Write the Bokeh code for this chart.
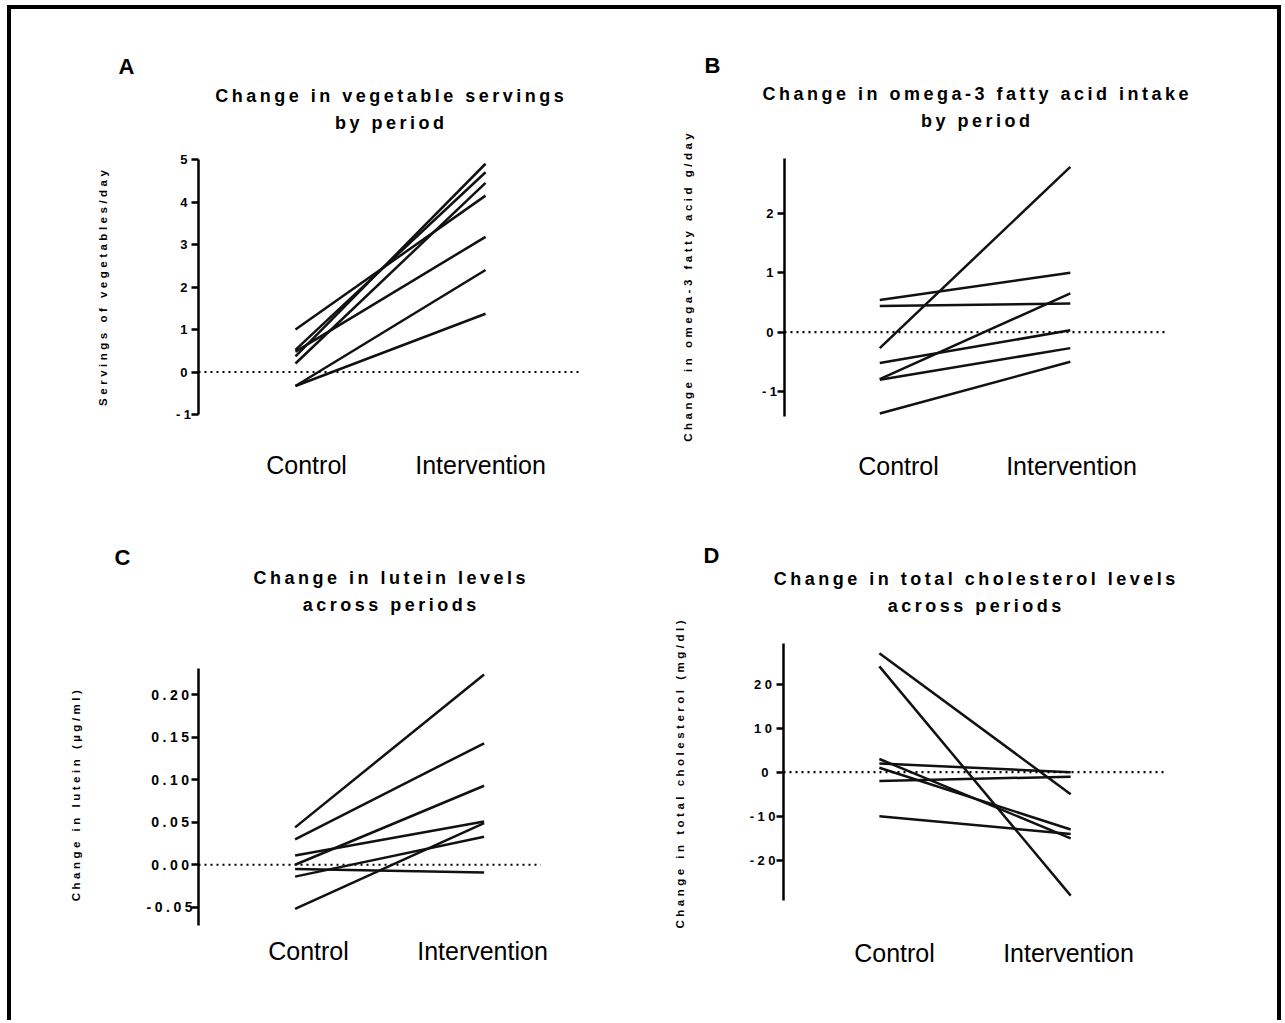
import math
from bokeh.plotting import figure
from bokeh.layouts import column, row
from bokeh.models import Range1d, FixedTicker, NumeralTickFormatter, Span
from bokeh.core.properties import value
from bokeh.embed import file_html
from bokeh.resources import INLINE

# ---------------- data ----------------
categories = ["Control", "Intervention"]

veg_control = [1.00, 0.52, 0.48, 0.37, 0.20, -0.33, -0.33]
veg_intervention = [4.15, 4.70, 3.18, 4.90, 4.45, 2.40, 1.37]
veg_ticks = [-1, 0, 1, 2, 3, 4, 5]

omega_control = [-0.27, 0.54, 0.44, -0.79, -0.52, -0.80, -1.37]
omega_intervention = [2.78, 1.00, 0.48, 0.65, 0.03, -0.27, -0.50]
omega_ticks = [-1, 0, 1, 2]

lutein_control = [0.044, 0.030, 0.000, 0.011, -0.014, -0.052, -0.005]
lutein_intervention = [0.224, 0.143, 0.093, 0.051, 0.033, 0.049, -0.009]
lutein_ticks = [-0.05, 0.0, 0.05, 0.10, 0.15, 0.20]

chol_control = [27, 24, 2, -2, 3, 1, -10]
chol_intervention = [-5, -28, 0, -1, -15, -13, -14]
chol_ticks = [-20, -10, 0, 10, 20]

panel_letters = ["A", "B", "C", "D"]
panel_titles = [
    ["Change in vegetable servings", "by period"],
    ["Change in omega-3 fatty acid intake", "by period"],
    ["Change in lutein levels", "across periods"],
    ["Change in total cholesterol levels", "across periods"],
]
y_labels = [
    "Servings of vegetables/day",
    "Change in omega-3 fatty acid g/day",
    "Change in lutein (µg/ml)",
    "Change in total cholesterol (mg/dl)",
]

# ---------------- style / layout ----------------
FONT = "Liberation Sans"
SP = 3.5                       # letter spacing in px
SPACING = f"{SP}px"
TITLE_SIZE = 18
YLAB_SIZE = 11.5
LETTER_SIZE = 22

# Arial / Liberation Sans Bold advance widths (per 1000 em)
_AB = {' ': 278, '(': 333, ')': 333, '-': 333, '.': 278, '/': 278, 'µ': 611,
       'A': 722, 'B': 722, 'C': 722, 'D': 722, 'S': 667,
       'a': 556, 'b': 611, 'c': 556, 'd': 611, 'e': 556, 'f': 333, 'g': 611, 'h': 611,
       'i': 278, 'j': 278, 'k': 556, 'l': 278, 'm': 889, 'n': 611, 'o': 611, 'p': 611,
       'q': 611, 'r': 389, 's': 556, 't': 333, 'u': 611, 'v': 556, 'w': 778, 'x': 556,
       'y': 556, 'z': 500}


def spaced_width(text, size):
    w = sum(_AB.get(c, 556) for c in text) / 1000.0 * size
    return w + (len(text) - 1) * SP


MB_BOT = 9

# geometry per panel (pixels); lab_xr = range of the category-label strip
panels = [
    dict(control=veg_control, intervention=veg_intervention, ticks=veg_ticks, fmt="0",
         xr=(0.49, 2.51), lab_xr=(0.379, 2.586), yr=(-1, 5), tick_size="13px",
         tick_standoff=4, qw=629, lw=125, mb_left=62, mb_right=58, mb_top=14, frame_h=255,
         top_h=136, bot_h=92, cat_standoff=26,
         title_xy=(378, 50, 23), letter_xy=(115, 79), ylab_xy=(91, 227.5), zero_end=None),
    dict(control=omega_control, intervention=omega_intervention, ticks=omega_ticks, fmt="0",
         xr=(0.50, 2.51), lab_xr=(0.341, 2.555), yr=(-1.42, 2.92), tick_size="13px",
         tick_standoff=4, qw=637, lw=90, mb_left=54, mb_right=110, mb_top=27, frame_h=258,
         top_h=122, bot_h=90, cat_standoff=25,
         title_xy=(335, 38, 11), letter_xy=(72, 66), ylab_xy=(47, 228), zero_end=None),
    dict(control=lutein_control, intervention=lutein_intervention, ticks=lutein_ticks,
         fmt="0.00", xr=(0.489, 2.51), lab_xr=(0.368, 2.563), yr=(-0.0715, 0.231),
         tick_size="14px", tick_standoff=13, qw=629, lw=125, mb_left=62, mb_right=60,
         mb_top=23, frame_h=257, top_h=130, bot_h=86, cat_standoff=1,
         title_xy=(378, 68, 41), letter_xy=(111, 88), ylab_xy=(64, 225), zero_end=2.3),
    dict(control=chol_control, intervention=chol_intervention, ticks=chol_ticks, fmt="0",
         xr=(0.499, 2.506), lab_xr=(0.362, 2.569), yr=(-29.1, 29.2), tick_size="13px",
         tick_standoff=8, qw=637, lw=90, mb_left=53, mb_right=110, mb_top=28, frame_h=257,
         top_h=100, bot_h=111, cat_standoff=28,
         title_xy=(334, 37, 10), letter_xy=(71, 60), ylab_xy=(39, 246), zero_end=None),
]


def strip(w, h):
    f = figure(width=w, height=h, x_range=Range1d(0, w), y_range=Range1d(0, h),
               output_backend="svg", toolbar_location=None, title=None, min_border=0,
               x_axis_location=None, y_axis_location=None,
               styles={"letter-spacing": SPACING})
    f.grid.visible = False
    f.outline_line_color = None
    return f


def make_panel(i):
    s = panels[i]
    xr = Range1d(*s["xr"])
    yr = Range1d(*s["yr"])
    mw = s["qw"] - s["lw"]
    main_h = s["mb_top"] + s["frame_h"] + MB_BOT

    # ---- main plot ----
    p = figure(width=mw, height=main_h, x_range=xr, y_range=yr,
               output_backend="svg", toolbar_location=None, title=None,
               min_border_left=s["mb_left"], min_border_right=s["mb_right"],
               min_border_top=s["mb_top"], min_border_bottom=MB_BOT,
               styles={"letter-spacing": SPACING})
    p.xaxis.visible = False
    p.grid.visible = False
    p.outline_line_color = None

    ax = p.yaxis[0]
    ax.ticker = FixedTicker(ticks=s["ticks"])
    ax.formatter = NumeralTickFormatter(format=s["fmt"])
    ax.axis_line_width = 2.5
    ax.axis_line_color = "black"
    ax.major_tick_line_width = 2.5
    ax.major_tick_line_color = "black"
    ax.major_tick_out = 7
    ax.major_tick_in = 0
    ax.minor_tick_line_color = None
    ax.major_label_standoff = s["tick_standoff"]
    ax.major_label_text_font = FONT
    ax.major_label_text_font_style = "bold"
    ax.major_label_text_font_size = s["tick_size"]
    ax.major_label_text_color = "black"

    if s["zero_end"] is None:
        p.add_layout(Span(location=0, dimension="width", line_color="black",
                          line_width=2.2, line_dash="2 4"))
    else:
        p.segment(x0=[s["xr"][0]], y0=[0], x1=[s["zero_end"]], y1=[0],
                  line_color="black", line_width=2.2, line_dash="2 4")

    xpos = [k + 1 for k in range(len(categories))]
    xs = [xpos for _ in s["control"]]
    ys = [[c, v] for c, v in zip(s["control"], s["intervention"])]
    p.multi_line(xs, ys, line_color="#111111", line_width=2.5)

    # ---- category label strip ----
    q = figure(width=mw, height=s["bot_h"], x_range=Range1d(*s["lab_xr"]),
               y_range=Range1d(0, 1), output_backend="svg", toolbar_location=None,
               title=None, min_border_left=s["mb_left"], min_border_right=s["mb_right"],
               min_border_top=0, min_border_bottom=s["bot_h"] - 1)
    q.yaxis.visible = False
    q.grid.visible = False
    q.outline_line_color = None
    bx = q.xaxis[0]
    bx.ticker = FixedTicker(ticks=xpos)
    bx.major_label_overrides = {x: c for x, c in zip(xpos, categories)}
    bx.axis_line_color = None
    bx.major_tick_line_color = None
    bx.minor_tick_line_color = None
    bx.major_tick_out = 0
    bx.major_tick_in = 0
    bx.major_label_standoff = s["cat_standoff"]
    bx.major_label_text_font = FONT
    bx.major_label_text_font_size = "25px"
    bx.major_label_text_color = "black"

    # ---- top strip: panel letter + two-line title ----
    t = strip(s["qw"], s["top_h"])
    cx, y1, y2 = s["title_xy"]
    lines = panel_titles[i]
    t.text(x=[cx - spaced_width(lines[0], TITLE_SIZE) / 2,
              cx - spaced_width(lines[1], TITLE_SIZE) / 2],
           y=[y1, y2], text=lines, text_font=value(FONT), text_font_style="bold",
           text_font_size=f"{TITLE_SIZE}px", text_align="left", text_baseline="middle",
           text_color="black")
    lx, ly = s["letter_xy"]
    t.text(x=[lx - spaced_width(panel_letters[i], LETTER_SIZE) / 2], y=[ly],
           text=[panel_letters[i]], text_font=value(FONT), text_font_style="bold",
           text_font_size=f"{LETTER_SIZE}px", text_align="left", text_baseline="middle",
           text_color="black")

    # ---- left strip: rotated y axis title ----
    L = strip(s["lw"], main_h + s["bot_h"])
    yx, yc = s["ylab_xy"]
    L.text(x=[yx], y=[yc - spaced_width(y_labels[i], YLAB_SIZE) / 2], text=[y_labels[i]],
           angle=math.pi / 2, text_font=value(FONT), text_font_style="bold",
           text_font_size=f"{YLAB_SIZE}px", text_align="left", text_baseline="middle",
           text_color="black")

    return column(t, row(L, column(p, q, spacing=0), spacing=0), spacing=0)


cols = [make_panel(k) for k in range(4)]
layout = column(row(cols[0], cols[1], spacing=0), row(cols[2], cols[3], spacing=0),
                spacing=0, margin=(5, 0, 0, 7),
                styles={"border-top": "4px solid black", "border-left": "4px solid black",
                        "border-right": "4px solid black", "background": "white"})

open("out.html", "w").write(file_html(layout, INLINE, title="Panels"))
